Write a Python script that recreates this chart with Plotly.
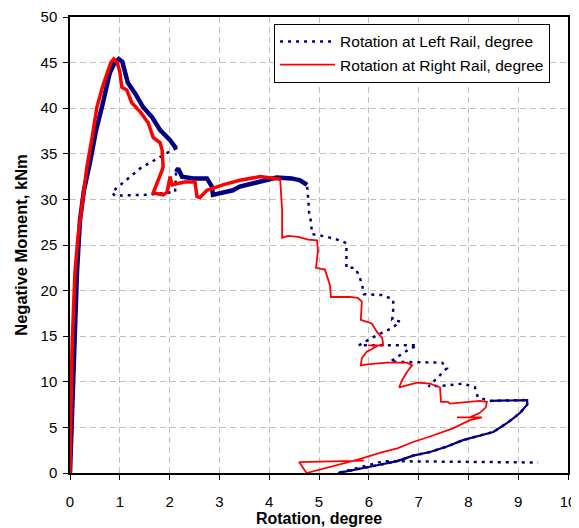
import plotly.graph_objects as go

# ---- data ----
left_rotation = [0, 0.02, 0.04, 0.07, 0.1, 0.14, 0.2, 0.28, 0.4, 0.52, 0.64, 0.72, 0.8, 0.9, 0.98,
                 1.05, 1.1, 1.16, 1.31, 1.47, 1.65, 1.81, 2.01, 2.13,
                 1.95, 1.41, 0.84, 0.9, 1.51, 2.11,
                 2.13, 2.17, 2.25, 2.47, 2.75, 2.85, 2.87, 3.01, 3.27, 3.41, 3.82, 4.15, 4.45, 4.62, 4.76,
                 4.79, 4.8, 4.84, 4.86, 5.16, 5.42, 5.55, 5.54, 5.55, 5.72, 5.78, 5.86, 5.9, 6.29, 6.49,
                 6.49, 6.47, 6.63, 6.47, 6.27, 6.09, 5.8, 6.97, 6.73, 6.43, 7.47, 7.57, 7.37, 7.2, 7.57,
                 7.89, 8.13, 8.19, 8.43,
                 9.18, 9.18, 9.04, 8.9, 8.78, 8.5, 8.23, 7.89, 7.57, 7.23, 6.89, 6.57, 6.22, 5.8, 5.38,
                 6.3, 9.4]
left_moment = [0, 3, 8, 13, 17, 22, 27.7, 31, 34, 37.5, 40.1, 42.2, 43.9, 45, 45.4,
               45.1, 44.2, 42.8, 41.6, 40.1, 39.0, 37.6, 36.5, 35.6,
               35.1, 33.4, 30.8, 30.4, 30.5, 30.8,
               33.0, 33.4, 32.5, 32.3, 32.3, 31.4, 30.5, 30.7, 31.0, 31.4, 31.9, 32.4, 32.3, 32.1, 31.6,
               29.6, 28.6, 27.5, 26.2, 25.9, 25.5, 25.2, 23.4, 22.5, 22.5, 21.9, 20.8, 19.6, 19.5, 19.0,
               17.9, 16.8, 16.6, 15.9, 15.4, 14.9, 14.0, 14.0, 13.3, 12.2, 12.1, 11.5, 10.4, 9.5, 9.6,
               9.8, 9.4, 8.3, 7.9,
               8.0, 7.5, 6.6, 6.0, 5.5, 4.5, 4.1, 3.6, 2.9, 2.3, 1.9, 1.3, 0.9, 0.45, 0.0,
               1.3, 1.15]

right_rotation = [0, 0.01, 0.03, 0.04, 0.07, 0.1, 0.16, 0.25, 0.34, 0.45, 0.54, 0.65, 0.74, 0.82, 0.88,
                  0.95, 1.0, 1.04, 1.14, 1.24, 1.41, 1.57, 1.67, 1.81, 1.85, 1.87, 1.85, 1.67, 1.87, 1.95,
                  2.01, 2.05, 2.3, 2.51, 2.55, 2.61, 2.75, 3.07, 3.41, 3.82, 4.22,
                  4.26, 4.26, 4.38, 4.58, 4.78, 4.96, 4.98, 4.94, 5.12, 5.22, 5.24, 5.62, 5.78, 5.86, 5.84,
                  6.06, 6.16, 6.27, 6.29, 5.98, 6.2, 5.96, 5.86, 5.84, 5.96, 6.37, 6.77, 6.87, 6.77, 6.67,
                  6.61, 6.97, 7.23, 7.43, 7.45, 7.59, 7.63, 8.23, 8.37, 8.35, 8.23, 8.03, 7.77, 8.27, 8.03,
                  7.69, 7.23, 6.89, 6.57, 6.22, 5.8, 5.3, 4.75, 4.6, 5.9]
right_moment = [0, 4, 9, 13.5, 18, 22, 25.9, 30, 33.6, 37, 40.1, 42.3, 43.9, 45, 45.4,
                45.0, 44.0, 42.3, 42.0, 40.6, 39.6, 38.4, 36.8, 36.2, 35.4, 33.6, 33.2, 30.7, 30.5, 30.8,
                32.5, 31.6, 31.9, 31.9, 30.3, 30.2, 31.0, 31.6, 32.1, 32.5, 32.2,
                28.8, 25.8, 26.0, 25.9, 25.6, 25.5, 24.4, 22.5, 22.3, 20.6, 19.3, 19.3, 19.2, 18.8, 16.8,
                16.4, 15.5, 14.8, 14.0, 14.0, 14.0, 13.3, 12.6, 11.8, 11.9, 12.1, 12.1, 11.8, 11.1, 10.2,
                9.4, 9.9, 9.8, 9.4, 7.8, 7.8, 7.6, 7.9, 7.8, 7.2, 6.6, 6.1, 6.1, 6.1, 5.8,
                4.9, 4.0, 3.4, 2.7, 2.2, 1.5, 0.8, 0.0, 1.2, 1.35]

series_names = ["Rotation at Left Rail, degree", "Rotation at Right Rail, degree"]
x_title = "Rotation, degree"
y_title = "Negative Moment, kNm"

# index ranges where the recorded points are dense (drawn as continuous bands)
left_dense = [(0, 24), (30, 45), (78, 94)]
right_dense = [(0, 41)]

BLUE = "#000080"
RED = "#ff0000"
FONT = "Liberation Sans, Arial, sans-serif"

fig = go.Figure()

fig.add_trace(go.Scatter(x=left_rotation, y=left_moment, mode="lines", name=series_names[0],
                         line=dict(color=BLUE, width=2.5, dash="3px,5px"), hoverinfo="skip"))
for a, b in left_dense:
    fig.add_trace(go.Scatter(x=left_rotation[a:b], y=left_moment[a:b], mode="lines", showlegend=False,
                             line=dict(color=BLUE, width=4.5 if a < 70 else 2.2), hoverinfo="skip"))

fig.add_trace(go.Scatter(x=right_rotation, y=right_moment, mode="lines", name=series_names[1],
                         line=dict(color=RED, width=1.8), hoverinfo="skip"))
for a, b in right_dense:
    fig.add_trace(go.Scatter(x=right_rotation[a:b], y=right_moment[a:b], mode="lines", showlegend=False,
                             line=dict(color=RED, width=3.5), hoverinfo="skip"))

axis_common = dict(
    showline=True, linecolor="black", linewidth=1.5, mirror=True,
    ticks="outside", ticklen=5, tickwidth=1, tickcolor="black",
    showgrid=True, gridcolor="#c0c0c0", gridwidth=1, griddash="6px,4px",
    zeroline=False, tickfont=dict(family=FONT, size=15, color="black"),
    automargin=False,
)

# the page body adds an 8px offset, so the figure is sized to the visible area
fig.update_layout(
    width=571, height=520,
    margin=dict(l=62, r=11, t=9, b=55),
    paper_bgcolor="white", plot_bgcolor="white",
    font=dict(family=FONT, color="black"),
    xaxis=dict(range=[0, 10], dtick=1, tick0=0, ticklabelstandoff=9,
               title=dict(text="<b>" + x_title + "</b>", font=dict(family=FONT, size=16), standoff=3),
               **axis_common),
    yaxis=dict(range=[0, 50], dtick=5, tick0=0, ticklabelstandoff=3,
               title=dict(text="<b>" + y_title + "</b>", font=dict(family=FONT, size=16.5), standoff=9),
               **axis_common),
    legend=dict(x=0.964, y=0.985, xanchor="right", yanchor="top",
                bgcolor="white", bordercolor="black", borderwidth=1,
                font=dict(family=FONT, size=15.5, color="black"),
                itemwidth=55, tracegroupgap=2),
    showlegend=True,
)

fig.write_html("out.html")
